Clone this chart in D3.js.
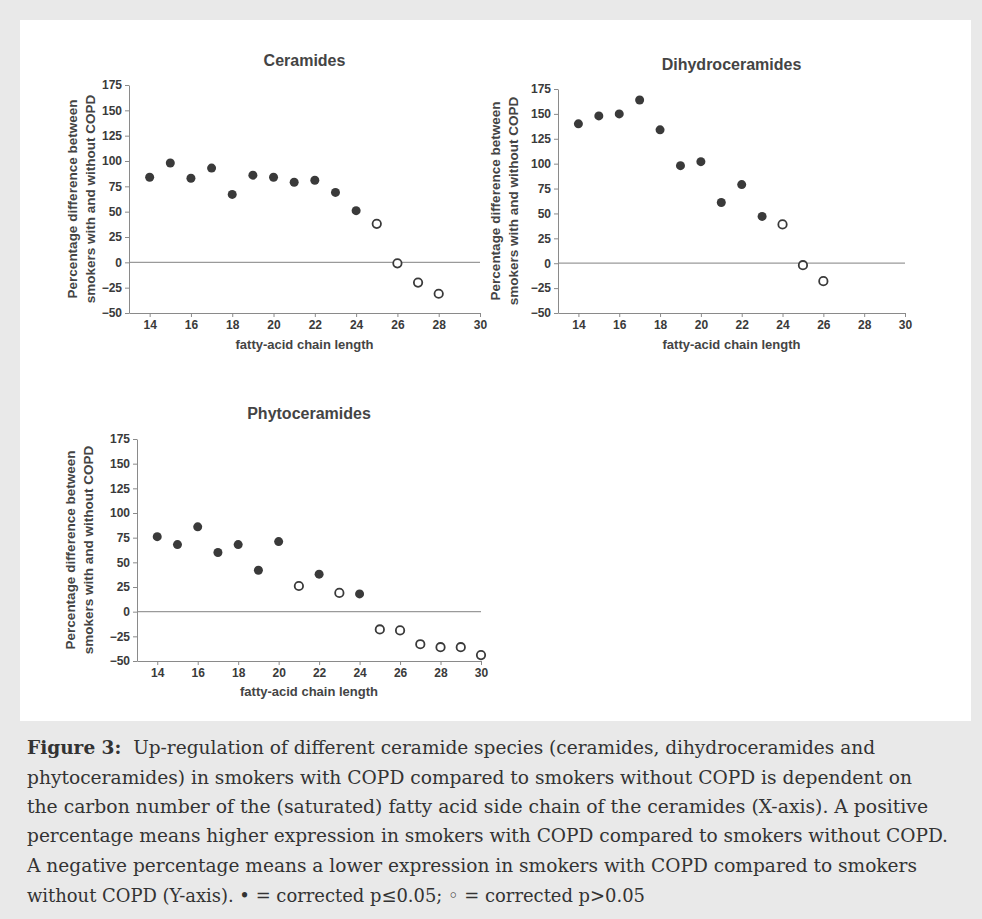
<!DOCTYPE html>
<html>
<head>
<meta charset="utf-8">
<script src="https://cdn.jsdelivr.net/npm/d3@7"></script>
<style>
  body { margin: 0; background: #e9e9e9; }
  svg { display: block; }
  .tick text { font-family: Arial, "Liberation Sans", sans-serif; font-weight: bold; font-size: 12px; fill: #3a3a3a; }
  .tick line, .domain { stroke: #8a8a8a; }
</style>
</head>
<body>
<svg id="fig" width="982" height="919"></svg>
<script>
// values (percentage difference, smokers with vs without COPD)
const ceramideChain = [14, 15, 16, 17, 18, 19, 20, 21, 22, 23, 24, 25, 26, 27, 28];
const ceramideDiff = [84, 98, 83, 93, 67, 86, 84, 79, 81, 69, 51, 38, -1, -20, -31];
const ceramideSig = [1, 1, 1, 1, 1, 1, 1, 1, 1, 1, 1, 0, 0, 0, 0];

const dihydroChain = [14, 15, 16, 17, 18, 19, 20, 21, 22, 23, 24, 25, 26];
const dihydroDiff = [140, 148, 150, 164, 134, 98, 102, 61, 79, 47, 39, -2, -18];
const dihydroSig = [1, 1, 1, 1, 1, 1, 1, 1, 1, 1, 0, 0, 0];

const phytoChain = [14, 15, 16, 17, 18, 19, 20, 21, 22, 23, 24, 25, 26, 27, 28, 29, 30];
const phytoDiff = [76, 68, 86, 60, 68, 42, 71, 26, 38, 19, 18, -18, -19, -33, -36, -36, -44];
const phytoSig = [1, 1, 1, 1, 1, 1, 1, 0, 1, 0, 1, 0, 0, 0, 0, 0, 0];

const xTicks = [14, 16, 18, 20, 22, 24, 26, 28, 30];
const yTicks = [-50, -25, 0, 25, 50, 75, 100, 125, 150, 175];

const captionLines = [
  ["Figure 3:", "  Up-regulation of different ceramide species (ceramides, dihydroceramides and"],
  ["", "phytoceramides) in smokers with COPD compared to smokers without COPD is dependent on"],
  ["", "the carbon number of the (saturated) fatty acid side chain of the ceramides (X-axis). A positive"],
  ["", "percentage means higher expression in smokers with COPD compared to smokers without COPD."],
  ["", "A negative percentage means a lower expression in smokers with COPD compared to smokers"],
  ["", "without COPD (Y-axis). \u2022 = corrected p\u22640.05; \u25E6 = corrected p>0.05"]
];

const svg = d3.select("#fig");

// white figure area
svg.append("rect")
  .attr("x", 20).attr("y", 20)
  .attr("width", 951).attr("height", 701)
  .attr("fill", "#fff");

function panel(p) {
  let x = d3.scaleLinear().domain([13, 30]).range([p.left, p.right]);
  let y = d3.scaleLinear().domain([-50, 175]).range([p.bottom, p.top]);
  let g = svg.append("g");
  let font = 'Arial, "Liberation Sans", sans-serif';

  g.append("text")
    .attr("x", (p.left + p.right) / 2).attr("y", p.titleY)
    .attr("text-anchor", "middle")
    .style("font-family", font).style("font-weight", "bold").style("font-size", "16px")
    .attr("fill", "#444")
    .text(p.title);

  // zero line
  g.append("line")
    .attr("x1", x(13)).attr("x2", x(30))
    .attr("y1", y(0)).attr("y2", y(0))
    .attr("stroke", "#9a9a9a").attr("stroke-width", 1.3);

  g.append("g")
    .attr("transform", `translate(0,${p.bottom})`)
    .call(d3.axisBottom(x).tickValues(xTicks).tickSize(4).tickSizeOuter(0));

  g.append("g")
    .attr("transform", `translate(${p.left},0)`)
    .call(d3.axisLeft(y).tickValues(yTicks).tickSize(4).tickSizeOuter(0));

  g.append("text")
    .attr("x", (p.left + p.right) / 2).attr("y", p.xLabelY)
    .attr("text-anchor", "middle")
    .style("font-family", font).style("font-weight", "bold").style("font-size", "13px")
    .attr("fill", "#444")
    .text("fatty-acid chain length");

  let cy = (p.top + p.bottom) / 2;
  let yl = g.append("text")
    .attr("transform", `translate(${p.left + p.yLabelOff},${cy}) rotate(-90)`)
    .attr("text-anchor", "middle")
    .style("font-family", font).style("font-weight", "bold").style("font-size", "13.5px")
    .attr("fill", "#444");
  yl.append("tspan").attr("x", 0).attr("dy", 0).text("Percentage difference between");
  yl.append("tspan").attr("x", 0).attr("dy", 18).text("smokers with and without COPD");

  let pts = p.chain.map((c, i) => ({ c: c, v: p.diff[i], s: p.sig[i] }));
  g.selectAll("circle.pt")
    .data(pts)
    .join("circle")
    .attr("class", "pt")
    .attr("cx", d => x(d.c))
    .attr("cy", d => y(d.v))
    .attr("r", d => d.s ? 4.5 : 4.2)
    .attr("fill", d => d.s ? "#3a3a3a" : "#fff")
    .attr("stroke", "#3a3a3a")
    .attr("stroke-width", d => d.s ? 0 : 1.8);
}

panel({ title: "Ceramides", chain: ceramideChain, diff: ceramideDiff, sig: ceramideSig,
  left: 129, right: 480, top: 85, bottom: 313, titleY: 66, xLabelY: 349, yLabelOff: -52 });
panel({ title: "Dihydroceramides", chain: dihydroChain, diff: dihydroDiff, sig: dihydroSig,
  left: 558, right: 905, top: 89, bottom: 313, titleY: 70, xLabelY: 349, yLabelOff: -58 });
panel({ title: "Phytoceramides", chain: phytoChain, diff: phytoDiff, sig: phytoSig,
  left: 137, right: 481, top: 439, bottom: 661, titleY: 419, xLabelY: 696, yLabelOff: -62 });

// caption
const capBase = [754, 784, 813, 842, 872, 902];
const capEnd = [875, 912, 928, 948, 917, 645];
captionLines.forEach((ln, i) => {
  let t = svg.append("text")
    .attr("x", 27).attr("y", capBase[i])
    .attr("textLength", capEnd[i] - 27)
    .attr("lengthAdjust", "spacingAndGlyphs")
    .style("font-family", '"DejaVu Serif Condensed", "DejaVu Serif", serif')
    .style("font-size", "19px")
    .style("white-space", "pre")
    .attr("fill", "#333");
  if (ln[0]) t.append("tspan").style("font-weight", "bold").text(ln[0]);
  t.append("tspan").text(ln[1]);
});
</script>
</body>
</html>
